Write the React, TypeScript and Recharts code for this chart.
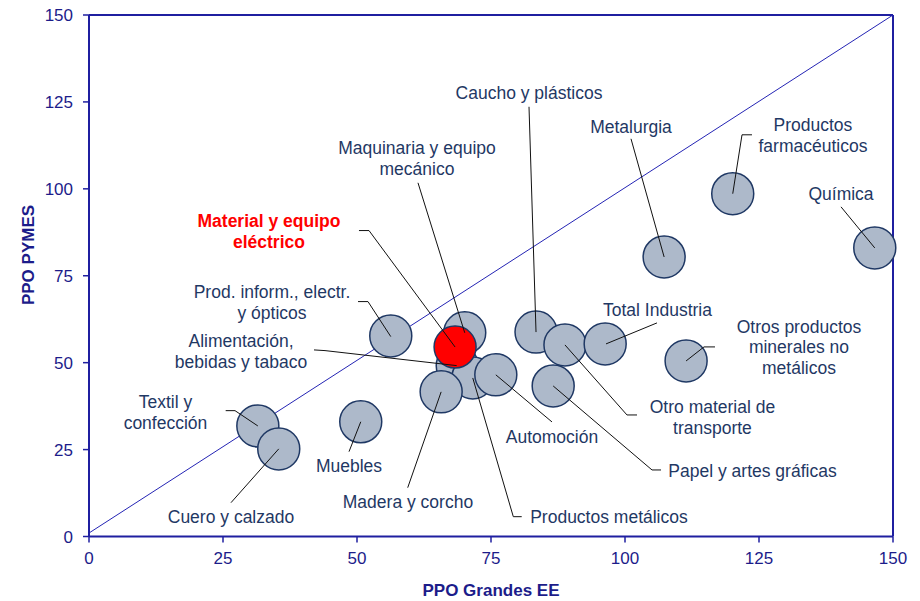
import React from 'react';
import { ScatterChart, Scatter, XAxis, YAxis, ReferenceLine, Label } from 'recharts';

const FONT = '"Liberation Sans", Arial, sans-serif';
const AXIS_BLUE = '#1f1fa0';
const TICK_BLUE = '#1c1c8a';
const TEXT_NAVY = '#1f3864';

// drawing order matters: later bubbles sit on top
const sectores = [
  'Maquinaria y equipo mecánico',
  'Alimentación, bebidas y tabaco',
  'Productos metálicos',
  'Madera y corcho',
  'Automoción',
  'Textil y confección',
  'Cuero y calzado',
  'Muebles',
  'Prod. inform., electr. y ópticos',
  'Caucho y plásticos',
  'Otro material de transporte',
  'Papel y artes gráficas',
  'Total Industria',
  'Otros productos minerales no metálicos',
  'Metalurgia',
  'Productos farmacéuticos',
  'Química',
  'Material y equipo eléctrico',
];

const ppoGrandes = [70.1, 68.7, 71.6, 65.7, 75.9, 31.5, 35.4, 50.7, 56.3, 83.4, 88.8, 86.6, 96.3, 111.4, 107.3, 120.1, 146.6, 68.3];
const ppoPymes = [58.6, 49.1, 45.6, 41.6, 46.5, 31.8, 25.2, 33.0, 57.7, 58.8, 55.1, 43.3, 55.4, 50.5, 80.4, 98.6, 83.0, 54.5];

const destacado = 'Material y equipo eléctrico';

const etiquetas = [
  ['Maquinaria y equipo', 'mecánico'],
  ['Alimentación,', 'bebidas y tabaco'],
  ['Productos metálicos'],
  ['Madera y corcho'],
  ['Automoción'],
  ['Textil y', 'confección'],
  ['Cuero y calzado'],
  ['Muebles'],
  ['Prod. inform., electr.', 'y ópticos'],
  ['Caucho y plásticos'],
  ['Otro material de', 'transporte'],
  ['Papel y artes gráficas'],
  ['Total Industria'],
  ['Otros productos', 'minerales no', 'metálicos'],
  ['Metalurgia'],
  ['Productos', 'farmacéuticos'],
  ['Química'],
  ['Material y equipo', 'eléctrico'],
];

// label anchors (centre of first line), in axis units
const etiquetaX = [61.19, 28.36, 97.01, 59.51, 86.38, 14.27, 26.49, 48.51, 34.14, 82.09, 116.32, 123.79, 106.06, 132.46, 101.12, 135.07, 140.3, 33.58];
const etiquetaY = [111.8, 56.26, 5.61, 9.93, 28.63, 38.71, 5.61, 20.29, 70.36, 127.63, 37.27, 18.85, 65.18, 60.29, 117.84, 118.42, 98.56, 90.79];

// leader lines from the bubble to the label, in axis units
const guias = [
  [[70.1, 58.6], [61.38, 101.73]],
  [[68.6, 49.15], [44.03, 53.47], [41.98, 53.67]],
  [[71.6, 45.6], [79.16, 5.7], [80.73, 5.7]],
  [[65.7, 41.6], [59.46, 14.04]],
  [[75.9, 46.5], [86.38, 32.95]],
  [[31.5, 31.8], [27.24, 36.2], [25.5, 36.2]],
  [[35.4, 25.2], [26.49, 9.73]],
  [[50.7, 33.0], [48.51, 24.4]],
  [[56.3, 57.5], [52.05, 67.57], [50.19, 67.57]],
  [[83.4, 58.8], [82.09, 123.6]],
  [[88.8, 55.1], [100.37, 34.96], [102.24, 34.96]],
  [[86.6, 43.3], [105.04, 19.14], [106.72, 19.14]],
  [[96.46, 55.4], [105.97, 61.44]],
  [[111.4, 50.5], [114.74, 54.53], [116.79, 54.53]],
  [[107.3, 80.4], [101.12, 114.39]],
  [[120.1, 98.6], [121.83, 115.54], [123.69, 115.54]],
  [[146.6, 83.0], [140.3, 94.82]],
  [[68.3, 54.5], [52.24, 88.0], [50.37, 88.0]],
];

const ticks = [0, 25, 50, 75, 100, 125, 150];

const burbujas = sectores
  .map((name, i) => ({ name, x: ppoGrandes[i], y: ppoPymes[i] }))
  .filter((d) => d.name !== destacado);
const burbujaRoja = sectores
  .map((name, i) => ({ name, x: ppoGrandes[i], y: ppoPymes[i] }))
  .filter((d) => d.name === destacado);

const textos = sectores.map((name, i) => ({
  name,
  x: etiquetaX[i],
  y: etiquetaY[i],
  lines: etiquetas[i],
}));

const Bubble = (props: any) => (
  <circle cx={props.cx} cy={props.cy} r={21} fill="#adb9ca" stroke={TEXT_NAVY} strokeWidth={1.5} />
);

const RedBubble = (props: any) => (
  <circle cx={props.cx} cy={props.cy} r={21} fill="#ff0000" stroke={TEXT_NAVY} strokeWidth={1.5} />
);

const NoDot = () => <g />;

const SectorLabel = (props: any) => {
  const { cx, cy, payload } = props;
  const red = payload.name === destacado;
  const gap = payload.lines.length > 2 ? 20.3 : 21;
  return (
    <text
      x={cx}
      y={cy}
      textAnchor="middle"
      fontFamily={FONT}
      fontSize={17.5}
      fontWeight={red ? 'bold' : 'normal'}
      fill={red ? '#ff0000' : TEXT_NAVY}
    >
      {payload.lines.map((l: string, i: number) => (
        <tspan key={i} x={cx} dy={i === 0 ? '0.35em' : gap}>
          {l}
        </tspan>
      ))}
    </text>
  );
};

export default function App() {
  return (
    <div style={{ position: 'absolute', left: 0, top: 0, background: '#fff' }}>
      <ScatterChart width={920} height={601} margin={{ top: 15, right: 27, bottom: 0, left: 0 }}>
        <XAxis
          type="number"
          dataKey="x"
          domain={[0, 150]}
          ticks={ticks}
          interval={0}
          height={64.5}
          axisLine={{ stroke: AXIS_BLUE, strokeWidth: 2 }}
          tickLine={{ stroke: AXIS_BLUE, strokeWidth: 1.5 }}
          tickSize={6}
          tickMargin={9.5}
          tick={{ fill: TICK_BLUE, fontSize: 17, fontFamily: FONT }}
        >
          <Label
            content={({ viewBox }: any) => (
              <text
                x={viewBox.x + viewBox.width / 2}
                y={596}
                textAnchor="middle"
                fontFamily={FONT}
                fontSize={17}
                fontWeight="bold"
                fill={TICK_BLUE}
              >
                PPO Grandes EE
              </text>
            )}
          />
        </XAxis>
        <YAxis
          type="number"
          dataKey="y"
          domain={[0, 150]}
          ticks={ticks}
          interval={0}
          width={89}
          axisLine={{ stroke: AXIS_BLUE, strokeWidth: 2 }}
          tickLine={{ stroke: AXIS_BLUE, strokeWidth: 1.5 }}
          tickSize={6}
          tickMargin={10}
          tick={{ fill: TICK_BLUE, fontSize: 17, fontFamily: FONT }}
        >
          <Label
            content={() => (
              <text
                x={0}
                y={0}
                transform="translate(33.5 255) rotate(-90)"
                textAnchor="middle"
                fontFamily={FONT}
                fontSize={17}
                fontWeight="bold"
                fill={TICK_BLUE}
              >
                PPO PYMES
              </text>
            )}
          />
        </YAxis>
        <ReferenceLine y={150} stroke={AXIS_BLUE} strokeWidth={2} />
        <ReferenceLine x={150} stroke={AXIS_BLUE} strokeWidth={2} />

        <Scatter data={burbujas} shape={Bubble} isAnimationActive={false} />
        <Scatter data={burbujaRoja} shape={RedBubble} isAnimationActive={false} />

        <ReferenceLine
          segment={[{ x: 0, y: 1 }, { x: 150, y: 150 }]}
          stroke="#2424b4"
          strokeWidth={1}
        />

        {guias.map((g, i) => (
          <Scatter
            key={'g' + i}
            data={g.map(([x, y]) => ({ x, y }))}
            line={{ stroke: '#111', strokeWidth: 1 }}
            lineType="joint"
            shape={NoDot}
            isAnimationActive={false}
          />
        ))}

        <Scatter data={textos} shape={SectorLabel} isAnimationActive={false} />
      </ScatterChart>
    </div>
  );
}
